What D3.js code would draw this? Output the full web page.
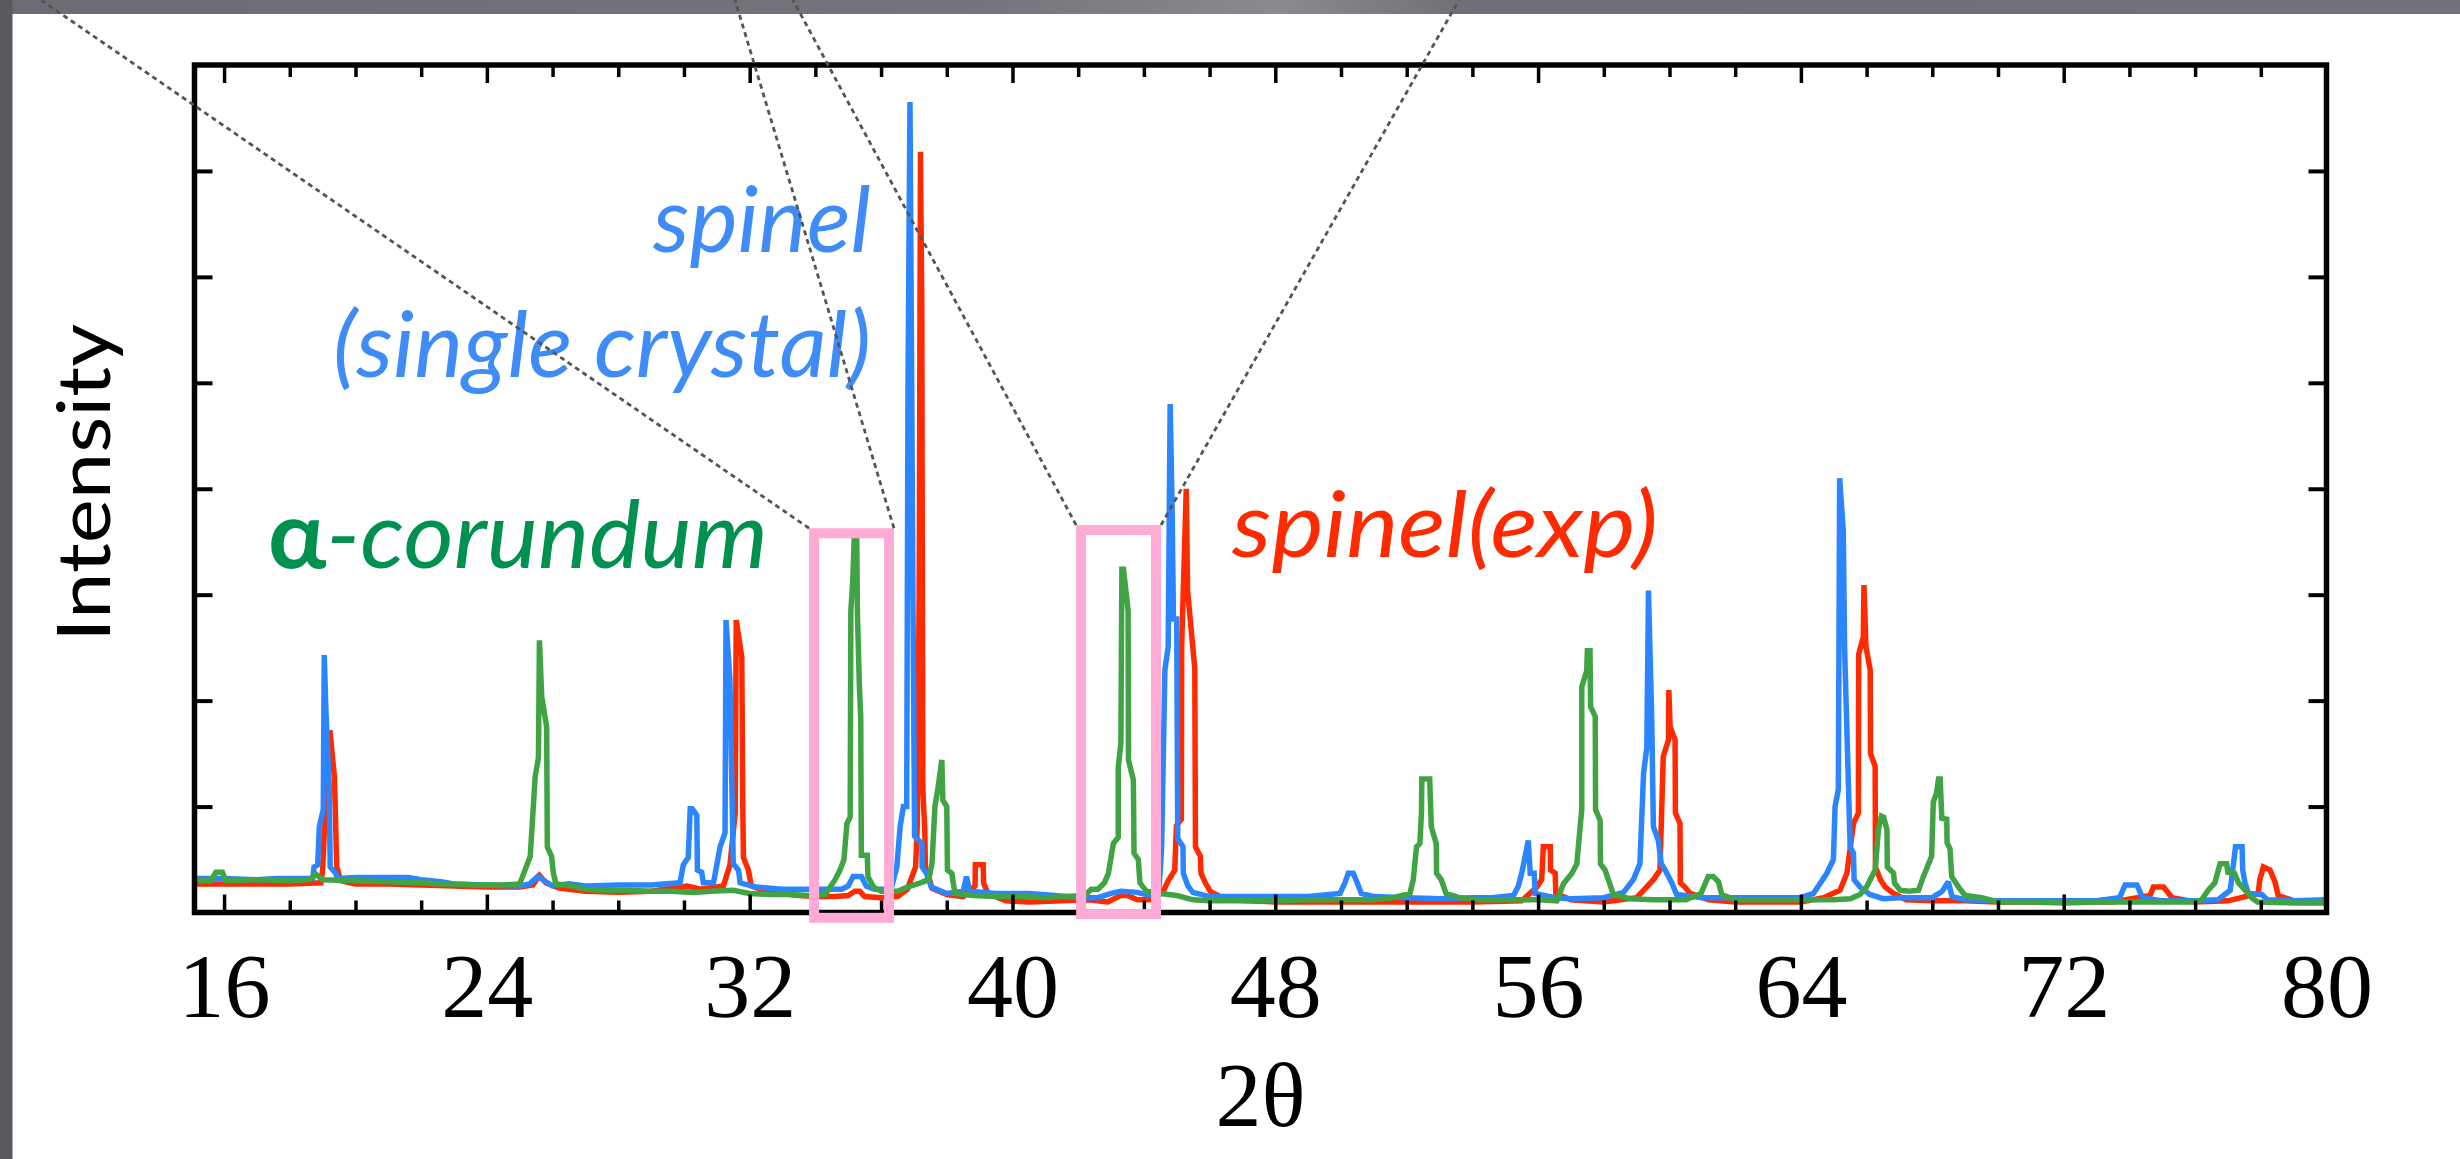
<!DOCTYPE html>
<html>
<head>
<meta charset="utf-8">
<script src="https://cdn.jsdelivr.net/npm/d3@7"></script>
<style>
  html, body { margin: 0; padding: 0; background: #fff; }
  svg { display: block; }
</style>
</head>
<body>
<script>
// ---- X-ray diffraction patterns: [2θ, intensity (a.u.)] ----

// spinel, single crystal (blue)
const spinelSingle = [
  [15.1,32],[16.0,32],[17.0,31],[17.6,32],[18.3,32],[18.70,32],[18.74,43],[18.85,45],[18.90,81],[19.02,97],
  [19.05,243],[19.10,190],[19.20,120],[19.23,43],[19.40,37],[19.45,32],[20.0,33],[21.0,33],[21.6,33],[22.0,31],
  [22.6,29],[23.0,27],[24.0,26],[25.0,25],[25.3,27],[25.55,34],[25.75,30],[26.0,25],[26.5,27],[27.0,25],
  [28.0,26],[29.0,26],[29.88,28],[29.98,45],[30.13,52],[30.19,98],[30.25,98],[30.39,92],[30.41,40],[30.54,38],
  [30.59,28],[30.9,28],[31.10,62],[31.25,75],[31.28,276],[31.40,219],[31.50,46],[31.66,40],[31.71,28],[32.2,24],
  [33.0,22],[33.6,22],[34.3,22],[34.8,22],[35.0,25],[35.15,34],[35.4,34],[35.55,25],[35.8,22],[36.3,22],
  [36.48,43],[36.58,81],[36.68,100],[36.78,100],[36.82,500],[36.88,765],[36.92,560],[36.97,300],[37.02,72],[37.24,65],
  [37.25,43],[37.38,37],[37.53,24],[38.0,18],[38.5,20],[38.6,34],[38.7,20],[39.5,18],[40.5,18],[41.3,16],
  [42.0,14],[42.6,14],[43.0,18],[43.3,20],[43.8,19],[44.2,16],[44.45,20],[44.50,40],[44.54,62],[44.64,229],
  [44.74,251],[44.80,480],[44.86,380],[44.90,277],[45.00,277],[45.03,70],[45.19,62],[45.20,37],[45.34,25],[45.49,19],
  [46.0,15],[47.0,15],[48.0,15],[49.0,15],[49.97,18],[50.12,28],[50.22,37],[50.37,37],[50.47,30],[50.62,18],
  [51.0,15],[52.0,14],[53.0,13],[54.0,14],[54.59,14],[55.25,16],[55.40,25],[55.50,37],[55.60,52],[55.70,68],
  [55.76,37],[55.88,37],[55.91,18],[56.5,14],[57.0,13],[58.0,14],[58.60,19],[58.90,31],[59.10,46],[59.21,131],
  [59.31,156],[59.36,304],[59.46,181],[59.51,81],[59.66,68],[59.75,46],[59.87,40],[60.07,28],[60.22,17],[61.0,14],
  [62.0,14],[63.0,14],[64.0,14],[64.38,18],[64.79,37],[64.99,50],[65.04,100],[65.14,116],[65.18,410],[65.29,360],
  [65.33,250],[65.40,172],[65.50,62],[65.60,56],[65.62,31],[65.80,24],[66.1,17],[66.5,13],[67.0,14],[68.0,14],
  [68.3,20],[68.49,29],[68.6,15],[69.0,12],[70.0,11],[71.0,11],[72.0,11],[73.0,11],[73.7,14],[73.87,26],
  [74.23,26],[74.4,14],[75.0,11],[76.0,11],[76.70,12],[77.07,21],[77.23,62],[77.43,62],[77.45,40],[77.52,28],
  [77.62,18],[78.03,17],[78.2,12],[79.0,11],[80.0,12]
];

// spinel, experimental (red)
const spinelExp = [
  [15.1,27],[16.0,27],[17.0,27],[18.0,27],[18.95,28],[19.0,40],[19.05,75],[19.15,110],[19.22,172],[19.36,128],
  [19.43,43],[19.55,30],[20.0,27],[21.0,27],[22.0,26],[23.0,25],[24.0,24],[25.0,24],[25.4,26],[25.6,35],
  [25.8,28],[26.2,23],[27.0,20],[28.0,19],[29.0,20],[29.9,24],[30.1,25],[30.5,22],[31.2,25],[31.3,35],
  [31.40,45],[31.56,94],[31.59,276],[31.76,241],[31.79,100],[31.81,52],[31.96,40],[32.05,25],[32.5,20],[33.0,18],
  [33.5,16],[34.0,15],[34.6,15],[35.0,16],[35.2,20],[35.35,20],[35.5,15],[36.0,14],[36.5,15],[36.8,22],
  [37.05,43],[37.10,81],[37.16,300],[37.20,718],[37.24,565],[37.27,116],[37.33,79],[37.35,43],[37.45,34],[37.55,23],
  [38.0,17],[38.5,15],[38.86,25],[38.87,45],[39.11,45],[39.12,28],[39.25,18],[39.8,11],[40.5,10],[41.5,11],
  [42.3,12],[42.9,10],[43.3,16],[43.5,16],[43.8,12],[44.3,12],[44.59,20],[44.74,30],[44.94,40],[44.99,82],
  [45.14,88],[45.15,251],[45.29,400],[45.33,304],[45.55,230],[45.57,62],[45.72,53],[45.74,37],[45.87,28],[46.02,20],
  [46.5,12],[48.0,10],[50.0,10],[52.0,10],[54.0,10],[55.5,11],[55.96,24],[56.11,31],[56.16,62],[56.37,62],
  [56.38,40],[56.52,37],[56.54,18],[57.0,12],[58.0,10],[59.00,14],[59.21,21],[59.51,31],[59.71,40],[59.81,147],
  [59.97,163],[59.98,210],[60.02,175],[60.17,163],[60.18,94],[60.32,84],[60.33,28],[60.47,24],[60.63,18],[61.2,12],
  [62.0,10],[63.0,10],[64.0,10],[64.69,14],[65.19,21],[65.40,37],[65.60,84],[65.75,94],[65.76,244],[65.90,260],
  [65.92,309],[65.98,251],[66.11,229],[66.12,150],[66.26,138],[66.27,43],[66.42,31],[66.57,24],[66.82,18],[67.2,12],
  [68.0,11],[69.0,11],[70.0,10],[72.0,10],[73.5,10],[74.63,16],[74.73,24],[75.04,24],[75.3,14],[76.0,10],
  [77.0,11],[77.92,18],[77.97,31],[78.08,43],[78.28,40],[78.43,29],[78.53,16],[79.1,10],[80.0,10]
];

// α-corundum (green)
const corundum = [
  [15.1,30],[15.6,30],[15.75,38],[15.95,38],[16.05,30],[17.0,31],[18.0,30],[18.6,31],[18.8,36],[19.0,31],
  [20.0,30],[21.0,29],[22.0,28],[22.6,27],[23.0,27],[23.6,26],[24.5,26],[25.0,27],[25.11,36],[25.32,53],
  [25.47,128],[25.57,146],[25.60,257],[25.67,204],[25.82,175],[25.84,62],[25.97,53],[26.02,38],[26.1,27],[26.6,25],
  [27.0,22],[27.6,21],[28.2,21],[29.0,20],[29.6,20],[30.3,19],[30.8,20],[31.5,21],[32.0,18],[32.6,17],
  [33.2,17],[33.8,16],[34.3,17],[34.45,24],[34.60,31],[34.75,40],[34.87,50],[34.96,84],[35.06,90],[35.08,285],
  [35.14,314],[35.18,352],[35.26,352],[35.28,282],[35.34,213],[35.38,185],[35.40,54],[35.58,54],[35.60,34],[35.77,24],
  [36.0,20],[36.5,20],[36.8,24],[37.2,28],[37.45,31],[37.55,46],[37.64,100],[37.74,119],[37.85,144],[37.88,106],
  [38.0,100],[38.02,40],[38.15,37],[38.25,18],[38.8,16],[39.5,15],[40.3,15],[41.0,14],[41.6,15],[42.2,16],
  [42.4,22],[42.6,22],[42.80,28],[42.92,37],[43.07,65],[43.22,71],[43.22,137],[43.30,160],[43.33,324],[43.38,324],
  [43.52,285],[43.53,144],[43.68,125],[43.70,56],[43.83,50],[43.88,28],[44.08,20],[44.5,18],[45.0,16],[45.5,12],
  [46.0,11],[47.0,11],[48.0,11],[49.0,12],[50.0,12],[51.0,12],[51.6,14],[52.10,18],[52.20,31],[52.30,62],
  [52.40,65],[52.45,94],[52.46,126],[52.70,126],[52.75,81],[52.90,65],[52.91,37],[53.05,31],[53.20,18],[53.6,14],
  [54.2,12],[55.0,12],[56.0,12],[56.57,11],[56.77,27],[57.03,37],[57.18,46],[57.28,81],[57.33,97],[57.33,213],
  [57.48,228],[57.50,247],[57.58,247],[57.60,194],[57.74,185],[57.75,97],[57.89,87],[57.90,46],[58.04,40],[58.15,30],
  [58.29,17],[58.8,13],[59.5,12],[60.0,12],[60.5,12],[60.96,18],[61.11,29],[61.18,34],[61.33,34],[61.49,29],
  [61.59,17],[62.0,12],[63.0,12],[64.0,12],[65.0,12],[65.5,13],[65.8,17],[66.0,24],[66.11,31],[66.26,40],
  [66.36,78],[66.45,91],[66.52,90],[66.62,78],[66.63,43],[66.82,37],[66.85,28],[67.02,21],[67.3,20],[67.58,21],
  [67.73,34],[67.98,53],[68.03,104],[68.13,113],[68.19,126],[68.24,126],[68.29,89],[68.44,88],[68.45,66],[68.54,60],
  [68.59,34],[68.80,24],[69.0,16],[69.5,14],[70.0,10],[71.0,10],[72.0,9],[73.0,10],[74.0,10],[75.0,10],
  [76.0,10],[76.20,12],[76.40,21],[76.60,28],[76.76,46],[76.96,46],[77.0,38],[77.2,37],[77.32,28],[77.52,21],
  [77.72,14],[77.9,10],[79.0,9],[80.0,9]
];

// axis ticks
const xMajorTicks = [16, 24, 32, 40, 48, 56, 64, 72, 80];
const xMinorTicks = d3.range(16, 80, 2).filter(v => !xMajorTicks.includes(v));
const yTicks = [100, 200, 300, 400, 500, 600, 700];

// highlighted corundum reflections (2θ range, intensity range)
const highlightBoxes = [
  { x0: 33.96, x1: 36.24, y0: -5,   y1: 358 },
  { x0: 42.09, x1: 44.37, y0: -1.5, y1: 361 }
];

// labels
const seriesLabels = {
  single: ["spinel", "(single crystal)"],
  corundumGreek: "α",
  corundumName: "-corundum",
  exp: "spinel(exp)"
};

// ---- layout ----
const W = 2460, H = 1159;
const plot = { left: 194.5, right: 2326.5, top: 65, bottom: 912.5 };

const colors = {
  single: "#2b85ff",
  exp: "#ff2a00",
  corundum: "#40a444",
  singleText: "#3f8cf7",
  corundumText: "#009150",
  expText: "#ff2a00",
  box: "#ffabd6",
  leader: "#555555"
};

const x = d3.scaleLinear().domain([15.1, 80]).range([plot.left, plot.right]);
const y = d3.scaleLinear().domain([0, 800]).range([plot.bottom, plot.top]);

const svg = d3.select("body").append("svg")
  .attr("width", W).attr("height", H)
  .attr("viewBox", `0 0 ${W} ${H}`);

svg.append("rect").attr("width", W).attr("height", H).attr("fill", "#fff");

// slide border strips
const band = svg.append("defs").append("linearGradient")
  .attr("id", "bandGrad").attr("x1", 0).attr("x2", 1).attr("y1", 0).attr("y2", 0);
band.append("stop").attr("offset", "0%").attr("stop-color", "#6c6c74");
band.append("stop").attr("offset", "40%").attr("stop-color", "#74747c");
band.append("stop").attr("offset", "52%").attr("stop-color", "#8a8a90");
band.append("stop").attr("offset", "60%").attr("stop-color", "#6e6e76");
band.append("stop").attr("offset", "100%").attr("stop-color", "#72727a");
svg.append("rect").attr("x", 0).attr("y", 0).attr("width", W).attr("height", 14).attr("fill", "url(#bandGrad)");
svg.append("rect").attr("x", 0).attr("y", 0).attr("width", 12.5).attr("height", H).attr("fill", "#5a5a60");

// ---- patterns ----
const line = d3.line().x(d => x(d[0])).y(d => y(d[1]));
const series = [
  { data: spinelExp, color: colors.exp },
  { data: spinelSingle, color: colors.single },
  { data: corundum, color: colors.corundum }
];
svg.append("g").attr("class", "patterns")
  .selectAll("path").data(series).join("path")
  .attr("d", d => line(d.data))
  .attr("fill", "none")
  .attr("stroke", d => d.color)
  .attr("stroke-width", 5.5)
  .attr("stroke-linejoin", "miter")
  .attr("stroke-miterlimit", 2);

// ---- axes (inward ticks on all four sides) ----
function styleTicks(g, width) {
  g.select(".domain").remove();
  g.selectAll(".tick line").attr("stroke", "#000").attr("stroke-width", width);
}
svg.append("g").attr("transform", `translate(0,${plot.bottom})`)
  .call(d3.axisBottom(x).tickValues(xMinorTicks).tickSize(-12).tickFormat(""))
  .call(g => styleTicks(g, 3.5));
svg.append("g").attr("transform", `translate(0,${plot.top})`)
  .call(d3.axisTop(x).tickValues(xMinorTicks).tickSize(-12).tickFormat(""))
  .call(g => styleTicks(g, 3.5));
svg.append("g").attr("transform", `translate(0,${plot.top})`)
  .call(d3.axisTop(x).tickValues(xMajorTicks).tickSize(-18).tickFormat(""))
  .call(g => styleTicks(g, 3.5));
const xAxis = svg.append("g").attr("transform", `translate(0,${plot.bottom})`)
  .call(d3.axisBottom(x).tickValues(xMajorTicks).tickSizeInner(-18).tickSizeOuter(0).tickPadding(39))
  .call(g => styleTicks(g, 3.5));
xAxis.selectAll(".tick text")
  .attr("fill", "#000")
  .style("font-family", "'Liberation Serif', 'Times New Roman', serif")
  .style("font-size", "92px");

svg.append("g").attr("transform", `translate(${plot.left},0)`)
  .call(d3.axisLeft(y).tickValues(yTicks).tickSize(-18).tickFormat(""))
  .call(g => styleTicks(g, 4));
svg.append("g").attr("transform", `translate(${plot.right},0)`)
  .call(d3.axisRight(y).tickValues(yTicks).tickSize(-18).tickFormat(""))
  .call(g => styleTicks(g, 4));

// frame
svg.append("rect")
  .attr("x", plot.left).attr("y", plot.top)
  .attr("width", plot.right - plot.left).attr("height", plot.bottom - plot.top)
  .attr("fill", "none").attr("stroke", "#000").attr("stroke-width", 5.5);

// axis titles
svg.append("text")
  .attr("x", (plot.left + plot.right) / 2).attr("y", 1126)
  .attr("text-anchor", "middle")
  .style("font-family", "'Liberation Serif', 'Times New Roman', serif")
  .style("font-size", "92px")
  .text("2θ");

svg.append("text")
  .attr("transform", `translate(110,${(plot.top + plot.bottom) / 2 - 6}) rotate(-90)`)
  .attr("text-anchor", "middle")
  .attr("textLength", 318).attr("lengthAdjust", "spacingAndGlyphs")
  .style("font-family", "Lato, 'Open Sans', sans-serif")
  .style("font-size", "74px")
  .text("Intensity");

// ---- series labels ----
const labelFont = "Lato, 'Open Sans', sans-serif";
svg.append("text")
  .attr("x", 871).attr("y", 252).attr("text-anchor", "end")
  .attr("textLength", 218).attr("lengthAdjust", "spacingAndGlyphs")
  .attr("fill", colors.singleText)
  .style("font-family", labelFont).style("font-style", "italic").style("font-size", "92px")
  .text(seriesLabels.single[0]);
svg.append("text")
  .attr("x", 871).attr("y", 377).attr("text-anchor", "end")
  .attr("textLength", 538).attr("lengthAdjust", "spacingAndGlyphs")
  .attr("fill", colors.singleText)
  .style("font-family", labelFont).style("font-style", "italic").style("font-size", "92px")
  .text(seriesLabels.single[1]);

const cor = svg.append("text")
  .attr("x", 268).attr("y", 568)
  .attr("textLength", 500).attr("lengthAdjust", "spacingAndGlyphs")
  .attr("fill", colors.corundumText)
  .style("font-family", labelFont).style("font-size", "94px");
cor.append("tspan").style("font-weight", "bold").style("font-style", "normal").text(seriesLabels.corundumGreek);
cor.append("tspan").style("font-style", "italic").text(seriesLabels.corundumName);

svg.append("text")
  .attr("x", 1232).attr("y", 557)
  .attr("textLength", 426).attr("lengthAdjust", "spacingAndGlyphs")
  .attr("fill", colors.expText)
  .style("font-family", labelFont).style("font-style", "italic").style("font-size", "92px")
  .text(seriesLabels.exp);

// ---- highlight boxes ----
svg.append("g").selectAll("rect").data(highlightBoxes).join("rect")
  .attr("x", d => x(d.x0)).attr("y", d => y(d.y1))
  .attr("width", d => x(d.x1) - x(d.x0)).attr("height", d => y(d.y0) - y(d.y1))
  .attr("fill", "none").attr("stroke", colors.box).attr("stroke-width", 10);

// leader lines from the boxes to the enlarged view above
const half = 5;
const b0 = highlightBoxes[0], b1 = highlightBoxes[1];
const leaders = [
  { from: [x(b0.x0) - half, y(b0.y1) - half], to: [41, 0] },
  { from: [x(b0.x1) + half, y(b0.y1) - half], to: [735, 0] },
  { from: [x(b1.x0) - half, y(b1.y1) - half], to: [793, 0] },
  { from: [x(b1.x1) + half, y(b1.y1) - half], to: [1459, 0] }
];
svg.append("g").selectAll("line").data(leaders).join("line")
  .attr("x1", d => d.from[0]).attr("y1", d => d.from[1])
  .attr("x2", d => d.to[0]).attr("y2", d => d.to[1])
  .attr("stroke", colors.leader).attr("stroke-width", 2.8)
  .attr("stroke-dasharray", "5,4");
</script>
</body>
</html>
